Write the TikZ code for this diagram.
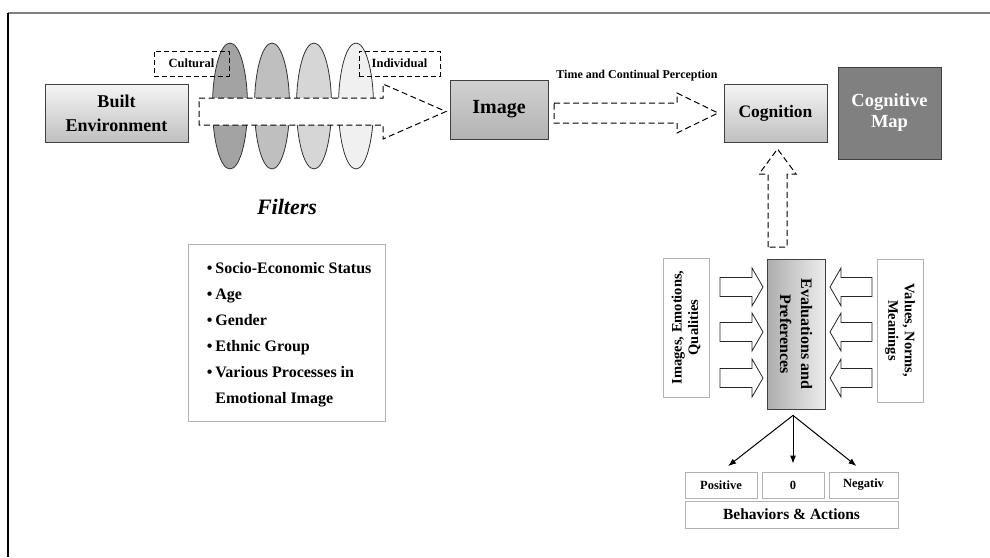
\documentclass[tikz,border=0pt]{standalone}
\usepackage{fontspec}
\setmainfont{Liberation Serif}
\usetikzlibrary{arrows.meta,shadows,positioning}
\tikzset{
  box/.style={draw=black!75, line width=0.8pt, align=center, inner sep=1pt,
    drop shadow={shadow xshift=1.2pt, shadow yshift=-1.2pt, opacity=.6}},
  lightbox/.style={box, top color=black!4, bottom color=black!25},
  plainbox/.style={draw=black!30, line width=0.8pt, fill=white, align=center, inner sep=1pt},
  dashbox/.style={draw, dash pattern=on 5pt off 3pt, line width=1pt, inner sep=1pt},
  dasharrow/.style={draw=black, fill=white, dash pattern=on 6pt off 3.5pt, line width=1pt},
  blockarrow/.style={draw=black!85, fill=white, line width=0.8pt},
  lens/.style={draw=black!80, line width=0.8pt},
  thinarrow/.style={-{Latex[length=8pt,width=6pt]}, line width=1pt},
}
\newcommand{\fsz}[2]{\bfseries\fontsize{#1}{#2}\selectfont}
\begin{document}
\begin{tikzpicture}[x=1pt,y=-1pt]
  \useasboundingbox (0,0) rectangle (990,557);
  \draw[black!50, line width=1.2pt] (8,13) -- (990,13);
  \draw[black, line width=1.2pt] (8,13) -- (8,557);

  % filters
  \foreach \x/\c in {230/black!36, 272/black!25, 314/black!16, 356/black!6}
    \draw[lens, fill=\c] (\x,106) ellipse [x radius=17.5, y radius=63];
  \node[lightbox, minimum width=143, minimum height=58, font=\fsz{18}{24}] (built) at (116.5,113) {Built\\Environment};
  \draw[dasharrow] (199,98) -- (383,98) -- (383,84) -- (446,111.5) -- (383,139) -- (383,125) -- (199,125) -- cycle;
  \node[dashbox, minimum width=75, minimum height=25, font=\fsz{12.5}{14}] (cultural) at (191.5,63.5) {Cultural};
  \node[dashbox, minimum width=81, minimum height=25, font=\fsz{12.5}{14}] (individual) at (399.5,63.5) {Individual};
  \node[font=\bfseries\itshape\fontsize{22}{26}\selectfont] (filters) at (287,207) {Filters};

  \node[plainbox, minimum width=197, minimum height=177] (filterbox) at (286.5,332.5) {};
  \node[anchor=north west, align=left, inner sep=0pt, font=\fsz{16}{26}] (filterlist)
    at ([xshift=19pt,yshift=-19pt]filterbox.north west)
    {\textbullet\hspace{3pt}Socio-Economic Status\\
     \textbullet\hspace{3pt}Age\\
     \textbullet\hspace{3pt}Gender\\
     \textbullet\hspace{3pt}Ethnic Group\\
     \textbullet\hspace{3pt}Various Processes in\\
     \hphantom{\textbullet\hspace{3pt}}Emotional Image};

  % image and cognition
  \node[box, top color=black!18, bottom color=black!30, minimum width=98, minimum height=59, font=\fsz{20}{24}] (image) at (499,109.5) {Image};
  \node[font=\fsz{12}{14}] (timelabel) at (637,76) {Time and Continual Perception};
  \draw[dasharrow] (554,103) -- (677,103) -- (677,93) -- (718,113) -- (677,133) -- (677,123) -- (554,123) -- cycle;
  \node[lightbox, minimum width=103, minimum height=58, font=\fsz{17.5}{21}] (cognition) at (775.5,113) {Cognition};
  \node[box, fill=black!50, text=white, minimum width=103, minimum height=92, font=\fsz{18.5}{21}] (cogmap) at (889.5,113) {Cognitive\\Map};
  \draw[dasharrow] (768,247) -- (768,174) -- (759,174) -- (777.5,149) -- (796,174) -- (787,174) -- (787,247) -- cycle;

  % evaluations
  \node[box, rotate=-90, left color=black!32, right color=black!7, minimum width=150, minimum height=58, font=\fsz{16}{21}] (eval) at (796,334) {Evaluations and\\Preferences};
  \node[plainbox, rotate=90, minimum width=139, minimum height=46, font=\fsz{14.5}{16.5}] (images) at (686,327.5) {Images, Emotions,\\Qualities};
  \node[plainbox, rotate=-90, minimum width=143, minimum height=46, font=\fsz{14.5}{16.5}] (values) at (900,330.5) {Values, Norms,\\Meanings};
  \foreach \y in {287,332,378} {
    \draw[blockarrow] (720,\y) ++(0,-9.5) -- ++(32,0) -- ++(0,-9.5) -- ++(11,19) -- ++(-11,19) -- ++(0,-9.5) -- ++(-32,0) -- cycle;
    \draw[blockarrow] (872,\y) ++(0,-9.5) -- ++(-31,0) -- ++(0,-9.5) -- ++(-11,19) -- ++(11,19) -- ++(0,-9.5) -- ++(31,0) -- cycle;
  }

  % behaviors
  \node[plainbox, minimum width=72, minimum height=26, font=\fsz{12.5}{14}] (positive) at (721,485) {Positive};
  \node[plainbox, minimum width=62, minimum height=26, font=\fsz{12.5}{14}] (zero) at (793,485) {0};
  \node[plainbox, minimum width=69, minimum height=26, font=\fsz{12.5}{14}] (negativ) at (863.5,485) {Negativ};
  \node[plainbox, minimum width=213, minimum height=27, font=\fsz{15.5}{18}] (behaviors) at (791.5,514.5) {Behaviors \& Actions};
  \coordinate (fork) at ([yshift=-6pt]eval.east -| zero.north);
  \draw[thinarrow, shorten >=9pt] (fork) -- (positive.north);
  \draw[thinarrow, shorten >=8pt] (fork) -- (zero.north);
  \draw[thinarrow, shorten >=9pt] (fork) -- (negativ.north);
\end{tikzpicture}
\end{document}
